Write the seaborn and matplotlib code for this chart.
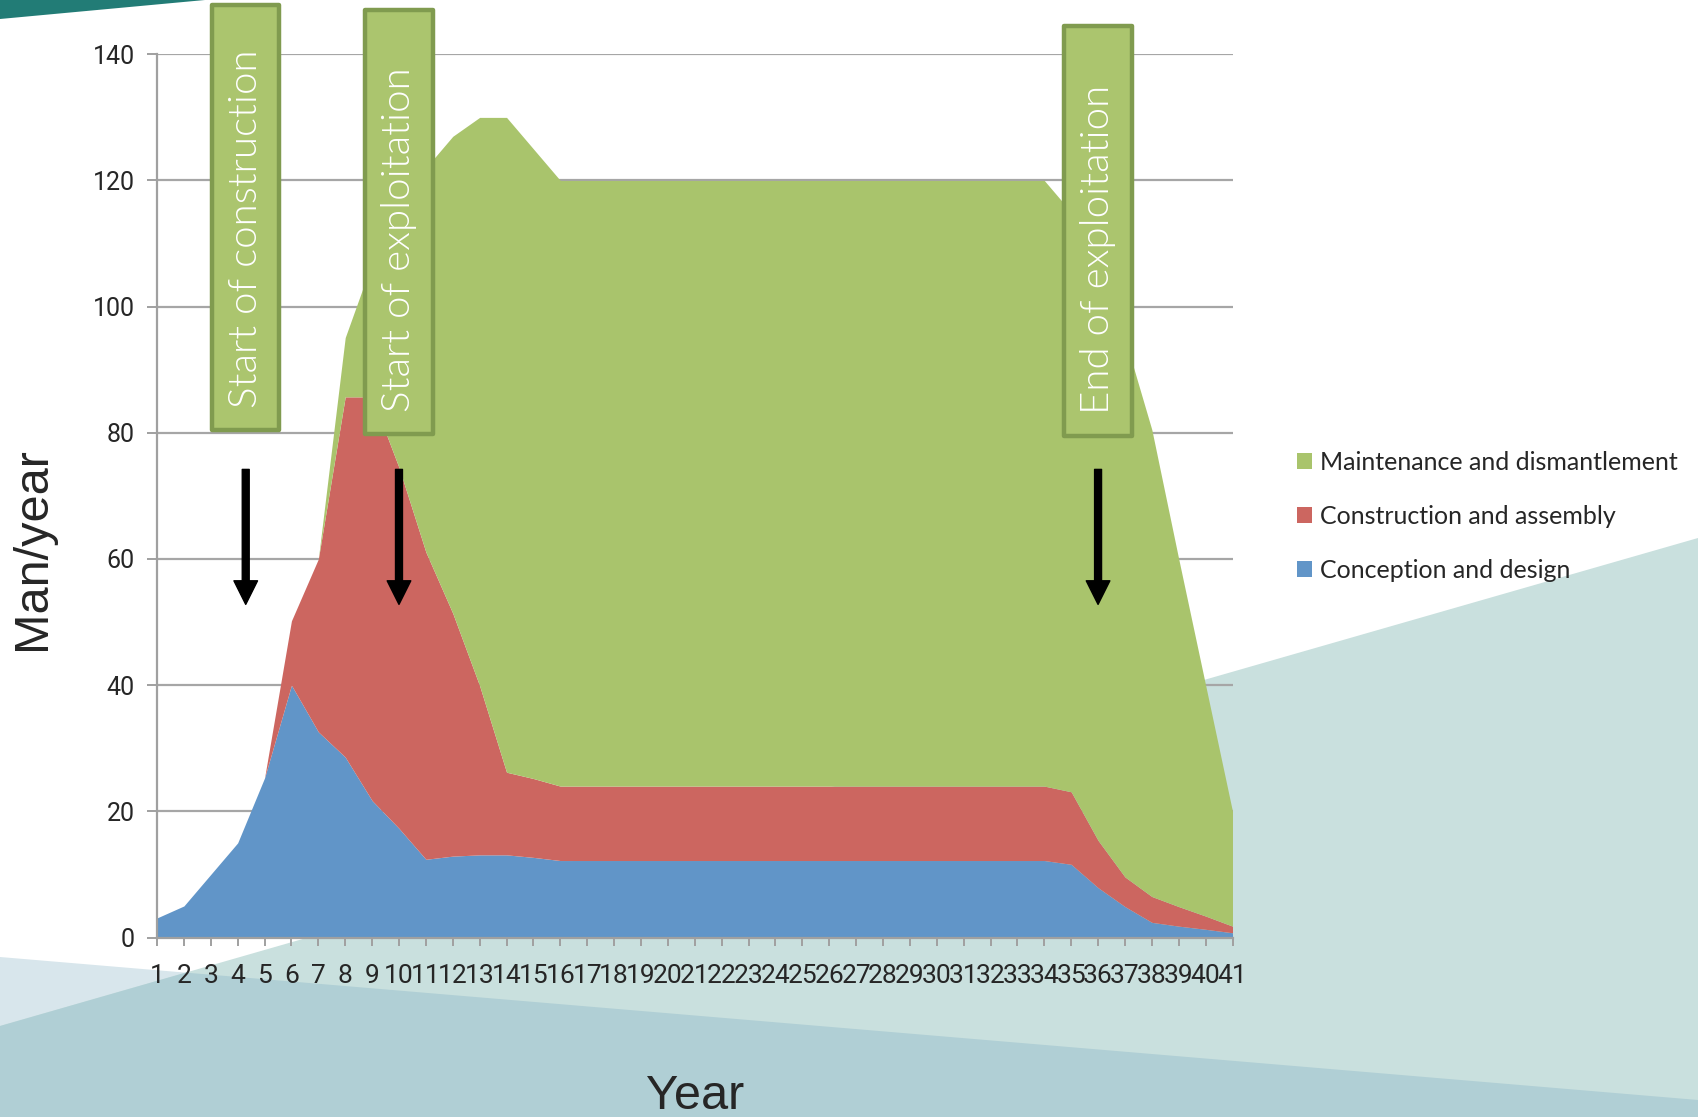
import numpy as np
import pandas as pd
import seaborn as sns
import matplotlib.pyplot as plt
from matplotlib import font_manager
from matplotlib.patches import Polygon, Rectangle, Patch
from matplotlib.transforms import blended_transform_factory

# data (man/year per stacked component)
years = list(range(1, 42))
design = [3.1, 5.0, 10.0, 15.0, 25.3, 40.0, 32.6, 28.6, 21.7, 17.3,
          12.4, 12.9, 13.1, 13.1, 12.7, 12.2, 12.2, 12.2, 12.2, 12.2,
          12.2, 12.2, 12.2, 12.2, 12.2, 12.2, 12.2, 12.2, 12.2, 12.2,
          12.2, 12.2, 12.2, 12.2, 11.6, 7.9, 4.9, 2.4, 1.8, 1.3, 0.75]
construction = [0.0, 0.0, 0.0, 0.0, 0.0, 10.2, 27.4, 57.1, 64.0, 57.2,
                48.7, 38.5, 26.8, 13.1, 12.5, 11.8, 11.8, 11.8, 11.8, 11.8,
                11.8, 11.8, 11.8, 11.8, 11.8, 11.8, 11.8, 11.8, 11.8, 11.8,
                11.8, 11.8, 11.8, 11.8, 11.5, 7.5, 4.7, 4.1, 3.1, 2.1, 1.05]
maintenance = [0.0, 0.0, 0.0, 0.0, 0.0, 0.0, 0.0, 9.4, 21.3, 40.5,
               60.9, 75.6, 90.1, 103.8, 99.8, 96.0, 96.0, 96.0, 96.0, 96.0,
               96.0, 96.0, 96.0, 96.0, 96.0, 96.0, 96.0, 96.0, 96.0, 96.0,
               96.0, 96.0, 96.0, 96.0, 91.9, 89.6, 85.4, 74.0, 55.1, 36.6, 18.2]
series_names = ['Conception and design', 'Construction and assembly', 'Maintenance and dismantlement']
series_colors = ['#6195c8', '#cc6660', '#a9c46c']

milestone_years = [4.3, 10.0, 36.0]
milestone_labels = ['Start of construction', 'Start of exploitation', 'End of exploitation']

df = pd.DataFrame({'Year': years, series_names[0]: design,
                   series_names[1]: construction, series_names[2]: maintenance})

sns.set_style('white')


def pick_font(names):
    for n in names:
        try:
            font_manager.findfont(n, fallback_to_default=False)
            return n
        except Exception:
            pass
    return 'DejaVu Sans'


tick_font = pick_font(['Liberation Sans Narrow', 'Roboto', 'Lato'])
plt.rcParams['font.family'] = [tick_font, 'DejaVu Sans']

W, H = 1698, 1117
fig = plt.figure(figsize=(W / 100, H / 100), dpi=100)


def fp(pts):
    return [(x / W, 1 - y / H) for x, y in pts]


# slide background shapes
fig.add_artist(Polygon(fp([(0, 957), (W, 1100), (W, H), (0, H)]), closed=True,
                       transform=fig.transFigure, color='#d8e6ec', lw=0, zorder=-3))
fig.add_artist(Polygon(fp([(0, 1026), (W, 538), (W, H), (0, H)]), closed=True,
                       transform=fig.transFigure, color='#c9e0de', lw=0, zorder=-2))
fig.add_artist(Polygon(fp([(185.7, 972.6), (W, 1100), (W, H), (0, H), (0, 1026)]), closed=True,
                       transform=fig.transFigure, color='#b0cfd5', lw=0, zorder=-1))
fig.add_artist(Polygon(fp([(0, 0), (205, 0), (0, 19)]), closed=True,
                       transform=fig.transFigure, color='#227c76', lw=0, zorder=-1))

ax = fig.add_axes([157 / W, 1 - 937.5 / H, 1075.5 / W, 883.2 / H])
ax.set_facecolor('none')

ax.stackplot(df['Year'], df[series_names[0]], df[series_names[1]], df[series_names[2]],
             colors=series_colors, labels=series_names, lw=0, zorder=2)

ax.set_xlim(1, 41)
ax.set_ylim(0, 140)
ax.set_xticks(years)
ax.set_xticklabels([str(y) for y in years])
ax.set_yticks(range(0, 141, 20))
ax.set_axisbelow(True)
ax.yaxis.grid(True, color='#a6a6a6', lw=1.6)
ax.xaxis.grid(False)
for s in ['top', 'right']:
    ax.spines[s].set_visible(False)
for s in ['left', 'bottom']:
    ax.spines[s].set_color('#a0a0a0')
    ax.spines[s].set_linewidth(1.6)
    ax.spines[s].set_zorder(3)
ax.tick_params(axis='y', direction='out', length=7, width=1.4, color='#a0a0a0',
               labelsize=18, pad=9, left=True)
ax.tick_params(axis='x', direction='out', length=6, width=1.4, color='#a0a0a0',
               labelsize=19, pad=13, bottom=True)

ax.set_ylabel('Man/year', fontsize=35, family='Liberation Sans')
ax.yaxis.set_label_coords(-0.095, 0.44)
ax.set_xlabel('Year', fontsize=35, family='Liberation Sans')
ax.xaxis.set_label_coords(0.5, -0.155)

# milestone boxes and arrows
blend = blended_transform_factory(ax.transData, ax.transAxes)
box_w = 2.5
box_tops = [1.0558, 1.0501, 1.032]
box_bottoms = [0.5746, 0.570, 0.5678]
for yr, lab, top, bot in zip(milestone_years, milestone_labels, box_tops, box_bottoms):
    ax.add_patch(Rectangle((yr - box_w / 2, bot), box_w, top - bot, transform=blend,
                           facecolor='#abc56e', edgecolor='#809b4f', lw=3.2,
                           joinstyle='round', clip_on=False, zorder=5))
    ax.text(yr, bot + 0.025, lab, transform=blend, rotation=90, rotation_mode='anchor',
            ha='left', va='center', color='white', fontsize=29,
            family=['Lato', 'DejaVu Sans'], fontweight=300, zorder=6, clip_on=False)
    ax.annotate('', xy=(yr, 52.8), xytext=(yr, 74.2),
                arrowprops=dict(facecolor='black', edgecolor='black', width=5,
                                headwidth=17, headlength=17, shrink=0),
                zorder=6)

handles = [Patch(facecolor=c, edgecolor='none') for c in series_colors]
leg = ax.legend(handles[::-1], series_names[::-1], loc='upper left',
                bbox_to_anchor=(1297 / W, 1 - 451 / H), bbox_transform=fig.transFigure,
                frameon=False, borderpad=0, borderaxespad=0, handlelength=0.6,
                handleheight=0.6, handletextpad=0.3, labelspacing=1.24,
                prop={'family': ['Lato', 'DejaVu Sans'], 'size': 18})

fig.savefig('out.png', dpi=100)
